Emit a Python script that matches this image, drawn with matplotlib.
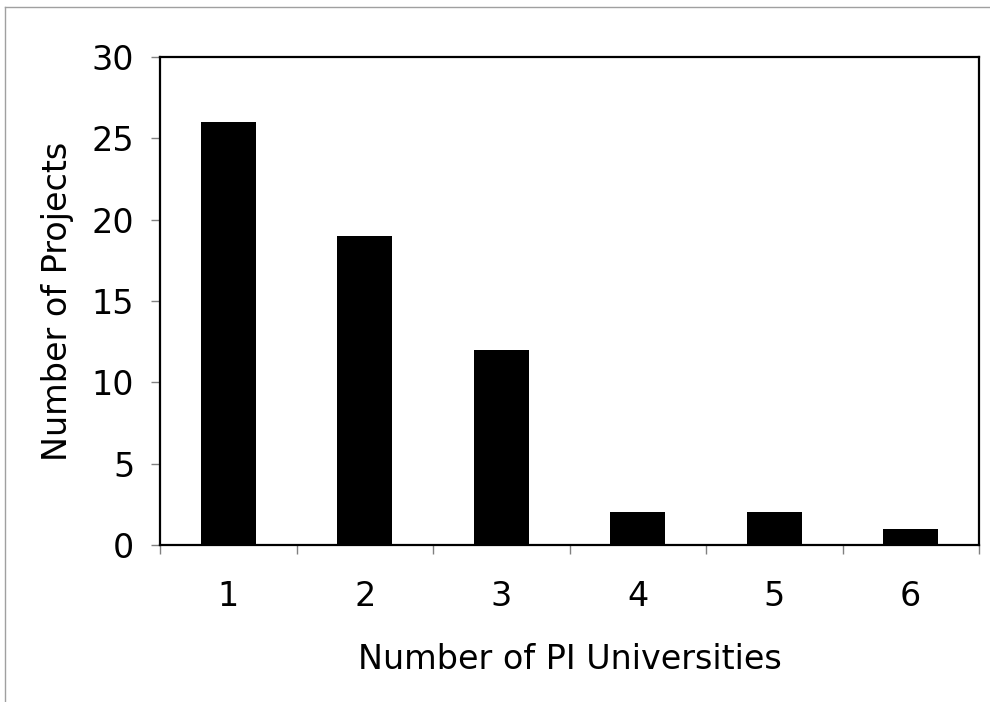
import matplotlib
matplotlib.use("Agg")
import matplotlib.pyplot as plt
from matplotlib.lines import Line2D

plt.rcParams["font.family"] = ["DejaVu Sans"]

categories = ["1", "2", "3", "4", "5", "6"]
projects = [26, 19, 12, 2, 2, 1]
y_ticks = [0, 5, 10, 15, 20, 25, 30]


def main():
    fig = plt.figure(figsize=(9.9, 7.02), dpi=100)
    fig.patch.set_facecolor("white")

    # thin grey frame at top and left of the picture
    fig.lines.append(Line2D([5 / 990, 1.0], [1 - 7 / 702, 1 - 7 / 702], transform=fig.transFigure, color="#a0a0a0", lw=1.0))
    fig.lines.append(Line2D([5 / 990, 5 / 990], [0, 1 - 7 / 702], transform=fig.transFigure, color="#a0a0a0", lw=1.0))

    ax = fig.add_axes([160 / 990, 1 - 545 / 702, (979 - 160) / 990, (545 - 57) / 702])
    x = list(range(len(categories)))
    ax.bar(x, projects, width=0.4, color="black", edgecolor="none", zorder=2)

    ax.set_xlim(-0.5, len(categories) - 0.5)
    ax.set_ylim(0, 30)
    ax.set_yticks(y_ticks)
    ax.set_yticklabels([str(v) for v in y_ticks], fontsize=24)
    ax.set_xticks(x)
    ax.set_xticklabels(categories, fontsize=24)
    ax.set_xticks([i - 0.5 for i in range(len(categories) + 1)], minor=True)

    ax.tick_params(axis="y", which="major", length=6.5, width=1, color="#808080", pad=12)
    ax.tick_params(axis="x", which="major", length=0, pad=25)
    ax.tick_params(axis="x", which="minor", length=6.5, width=1, color="#808080")

    for sp in ax.spines.values():
        sp.set_linewidth(1.6)
        sp.set_color("black")

    ax.set_xlabel("Number of PI Universities", fontsize=24, labelpad=22)
    ax.set_ylabel("Number of Projects", fontsize=24, labelpad=13)

    fig.savefig("out.png", dpi=100)


if __name__ == "__main__":
    main()
